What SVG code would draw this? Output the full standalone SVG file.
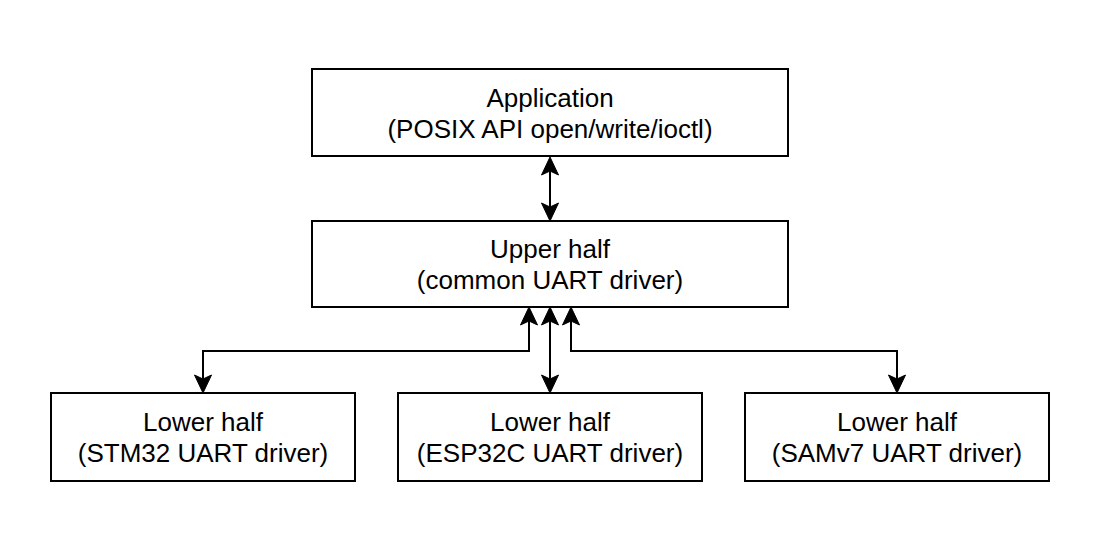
<svg xmlns="http://www.w3.org/2000/svg" width="1100" height="550" viewBox="0 0 1100 550">
  <style>
    .box { fill: #ffffff; stroke: #000000; stroke-width: 2; }
    .lbl { font-family: "Liberation Sans", Arial, Helvetica, sans-serif; font-size: 26px; fill: #000000; text-anchor: middle; }
    .conn { fill: none; stroke: #000000; stroke-width: 2; marker-start: url(#arr); marker-end: url(#arr); }
  </style>
  <defs>
    <marker id="arr" viewBox="-6 -10 22 20" refX="0" refY="0" markerWidth="22" markerHeight="20" markerUnits="userSpaceOnUse" orient="auto-start-reverse" overflow="visible">
      <path d="M0,0 L-4,-8.5 L14,0 L-4,8.5 Z" fill="#000000" stroke="#000000" stroke-width="1" stroke-linejoin="miter"/>
    </marker>
  </defs>
  <rect x="0" y="0" width="1100" height="550" fill="#ffffff"/>

  <g id="connectors">
    <path class="conn" d="M550,171 L550,207"/>
    <path class="conn" d="M529,321 L529,351 L203,351 L203,379"/>
    <path class="conn" d="M550,321 L550,379"/>
    <path class="conn" d="M571,321 L571,351 L897,351 L897,379"/>
  </g>

  <g id="application">
    <rect class="box" x="312" y="69" width="476" height="87"/>
    <text class="lbl" x="550" y="107">Application</text>
    <text class="lbl" x="550" y="138">(POSIX API open/write/ioctl)</text>
  </g>

  <g id="upper-half">
    <rect class="box" x="312" y="221" width="476" height="86"/>
    <text class="lbl" x="550" y="258">Upper half</text>
    <text class="lbl" x="550" y="289">(common UART driver)</text>
  </g>

  <g id="lower-stm32">
    <rect class="box" x="51" y="393" width="304" height="88"/>
    <text class="lbl" x="203" y="431">Lower half</text>
    <text class="lbl" x="203" y="462">(STM32 UART driver)</text>
  </g>

  <g id="lower-esp32c">
    <rect class="box" x="398" y="393" width="304" height="88"/>
    <text class="lbl" x="550" y="431">Lower half</text>
    <text class="lbl" x="550" y="462">(ESP32C UART driver)</text>
  </g>

  <g id="lower-samv7">
    <rect class="box" x="745" y="393" width="304" height="88"/>
    <text class="lbl" x="897" y="431">Lower half</text>
    <text class="lbl" x="897" y="462">(SAMv7 UART driver)</text>
  </g>
</svg>
